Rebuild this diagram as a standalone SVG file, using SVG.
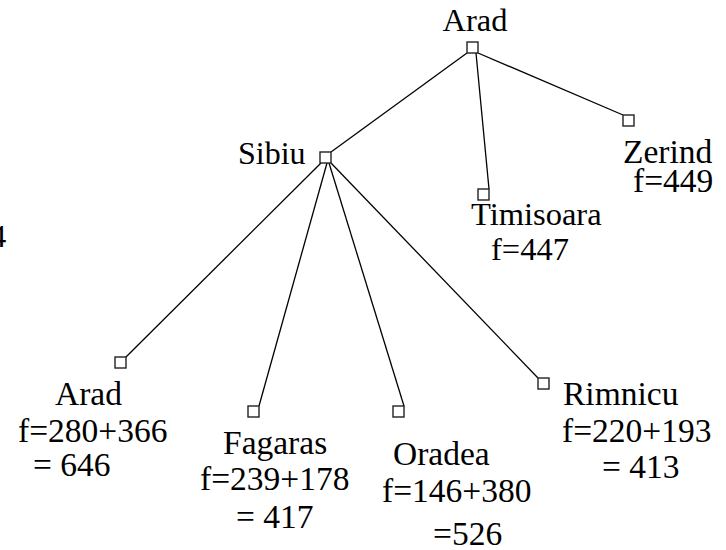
<svg xmlns="http://www.w3.org/2000/svg" width="726" height="550" viewBox="0 0 726 550">
  <style>
    .box { fill: #fff; stroke: #222; stroke-width: 1.4; }
    .edge { stroke: #000; stroke-width: 1.3; fill: none; }
    .big { font-size: 33.5px; }
  </style>
  <rect width="726" height="550" fill="#fff"/>

  <g font-family="Liberation Serif, DejaVu Serif, serif" font-size="32.5" fill="#000">
  <!-- clipped digit at left edge -->
  <text x="-10" y="247">4</text>

  <!-- search tree edges -->
  <g id="connectors">
    <line class="edge" x1="467" y1="53" x2="331" y2="152"/>
    <line class="edge" x1="476" y1="53" x2="489" y2="189"/>
    <line class="edge" x1="478" y1="53" x2="623" y2="115"/>
    <line class="edge" x1="321" y1="163" x2="126" y2="357"/>
    <line class="edge" x1="327" y1="163" x2="259" y2="406"/>
    <line class="edge" x1="329" y1="163" x2="404" y2="406"/>
    <line class="edge" x1="331" y1="163" x2="538" y2="378"/>
  </g>

  <g id="arad-root">
    <rect class="box" x="467" y="42" width="11" height="11"/>
    <text x="475" y="31" text-anchor="middle">Arad</text>
  </g>

  <g id="sibiu">
    <rect class="box" x="320" y="152" width="11" height="11"/>
    <text x="238" y="164" font-size="32">Sibiu</text>
  </g>

  <g id="timisoara">
    <rect class="box" x="478" y="189" width="11" height="11"/>
    <text x="471" y="225">Timisoara</text>
    <text x="491" y="260">f=447</text>
  </g>

  <g id="zerind" class="big">
    <rect class="box" x="623" y="115" width="11" height="11"/>
    <text x="623" y="163">Zerind</text>
    <text x="633" y="192">f=449</text>
  </g>

  <g id="arad-leaf" class="big">
    <rect class="box" x="115" y="357" width="11" height="11"/>
    <text x="55" y="405">Arad</text>
    <text x="18" y="442">f=280+366</text>
    <text x="33" y="476">= 646</text>
  </g>

  <g id="fagaras" class="big">
    <rect class="box" x="248" y="406" width="11" height="11"/>
    <text x="223" y="454">Fagaras</text>
    <text x="200" y="490">f=239+178</text>
    <text x="236" y="528">= 417</text>
  </g>

  <g id="oradea" class="big">
    <rect class="box" x="393" y="406" width="11" height="11"/>
    <text x="393" y="465">Oradea</text>
    <text x="382" y="502">f=146+380</text>
    <text x="433" y="545">=526</text>
  </g>

  <g id="rimnicu" class="big">
    <rect class="box" x="538" y="378" width="11" height="11"/>
    <text x="563" y="405">Rimnicu</text>
    <text x="562" y="442">f=220+193</text>
    <text x="602" y="478">= 413</text>
  </g>
  </g>
</svg>
